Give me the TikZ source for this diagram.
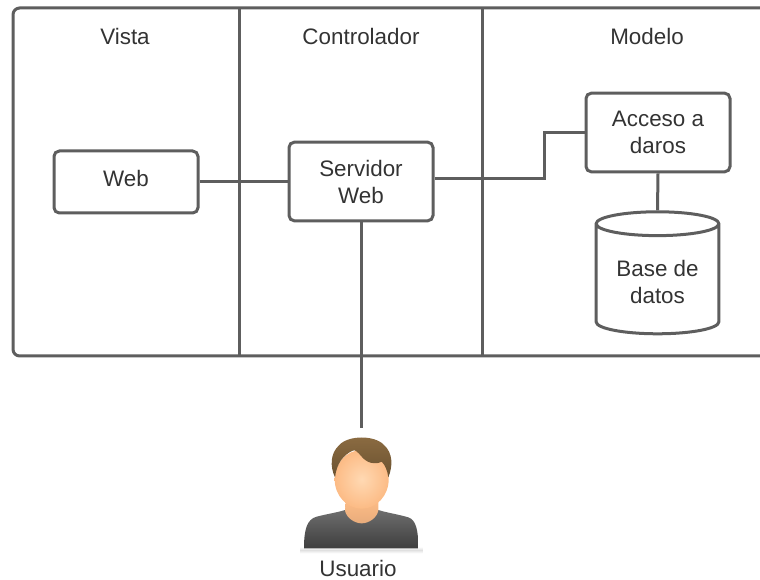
\documentclass[tikz,border=0pt]{standalone}
\usepackage{fontspec}
\setmainfont{Liberation Sans}
\usepackage{tikz}
\usetikzlibrary{shapes.geometric, positioning, calc}

\definecolor{linegray}{HTML}{5E5E5E}
\definecolor{textgray}{HTML}{333333}
\definecolor{hairtop}{HTML}{8C6C42}
\definecolor{hairbot}{HTML}{6B5230}
\definecolor{faceskin}{HTML}{FCBB85}
\definecolor{faceglow}{HTML}{FFD9B3}
\definecolor{neckskin}{HTML}{E8AC7C}
\definecolor{shirttop}{HTML}{6E6E6E}
\definecolor{shirtbot}{HTML}{3E3E3E}

\tikzset{
    label text/.style={text=textgray, font=\fontsize{16.8}{20.25}\selectfont, align=center, inner sep=0pt},
    wire/.style={draw=linegray, line width=2.25pt},
    box/.style={label text, wire, rounded corners=4pt, minimum width=108pt},
}

\begin{document}
\begin{tikzpicture}[x=0.75pt, y=-0.75pt]
    \useasboundingbox (0,0) rectangle (760,580);

    % Corners of the frame
    \coordinate (F_tr) at (760,8);
    \coordinate (F_tl) at (13,8);
    \coordinate (F_bl) at (13,356);
    \coordinate (F_br) at (760,356);

    % Draw the frame and its columns
    \draw[wire, rounded corners=5pt] (F_tr) -- (F_tl) -- (F_bl) -- (F_br);
    \draw[wire] (239.5,8) -- (239.5,356);
    \draw[wire] (482,8) -- (482,356);

    % Column titles
    \node[label text] (vista) at (125,36) {Vista};
    \node[label text] (control) at (361,36) {Controlador};
    \node[label text] (modelo) at (647,36) {Modelo};

    % Boxes
    \node[box, minimum height=46.5pt, text depth=6pt] (web) at (126,182) {Web};
    \node[box, minimum height=59pt] (srv) at (361,181.5) {Servidor\\Web};
    \node[box, minimum height=59pt] (acc) at (658,132.5) {Acceso a\\daros};

    % Database
    \node[label text, wire, cylinder, shape border rotate=90, aspect=0.29, text height=36pt,
        minimum width=92pt, minimum height=91.5pt] (db) at (657.5,279.5) {Base de\\datos};

    % Connectors
    \coordinate (U_top) at (361,428);
    \draw[wire] (web.east |- 0,182) -- (srv.west |- 0,182);
    \draw[wire] (srv.east |- 0,179) -- (544,179) |- (acc.west);
    \draw[wire] (srv.south) -- (U_top);
    \draw[wire] (acc.south) -- (db.north);

    % User figure
    \begin{scope}[shift={(280,420)}, x=0.25pt, y=-0.25pt]
        \shade[top color=white, bottom color=white, middle color=black!12]
            (60,380) rectangle (428,400);
        \shade[top color=shirttop, bottom color=shirtbot]
            (72,385) .. controls (72,330) and (80,298) .. (110,290) .. controls (140,282) and (170,278) .. (195,270)
            -- (295,270) .. controls (320,278) and (350,282) .. (385,292) .. controls (408,300) and (415,330) .. (415,385) -- cycle;
        \shade[top color=faceskin, bottom color=neckskin]
            (197,245) -- (295,245) -- (295,272) .. controls (290,295) and (265,310) .. (245,310)
            .. controls (225,310) and (200,295) .. (195,272) -- cycle;
        \shade[inner color=faceglow, outer color=faceskin]
            (245,178) ellipse [x radius=81, y radius=88];
        \shade[top color=hairtop, bottom color=hairbot]
            (165,172) .. controls (150,140) and (150,100) .. (178,75) .. controls (205,45) and (285,45) .. (312,75)
            .. controls (340,100) and (338,140) .. (325,172) .. controls (322,150) and (315,135) .. (305,125)
            .. controls (285,135) and (262,130) .. (245,110) .. controls (232,95) and (225,88) .. (218,92)
            .. controls (190,105) and (170,130) .. (165,172) -- cycle;
    \end{scope}

    % User name
    \node[label text] (usuario) at (358,568) {Usuario};
\end{tikzpicture}
\end{document}
